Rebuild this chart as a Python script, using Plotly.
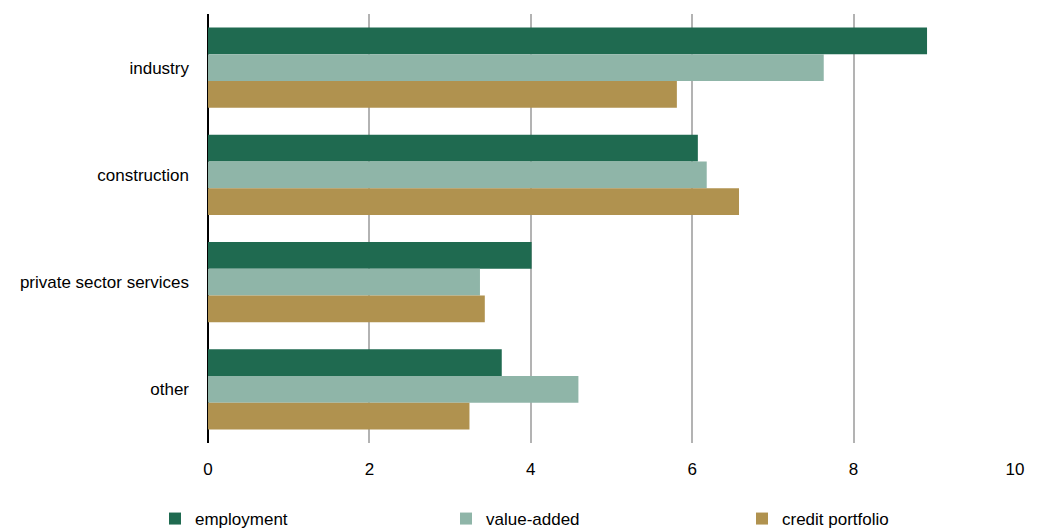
import plotly.graph_objects as go

sectors = ["industry", "construction", "private sector services", "other"]
employment = [8.91, 6.07, 4.01, 3.64]
value_added = [7.63, 6.18, 3.37, 4.59]
credit_portfolio = [5.81, 6.58, 3.43, 3.24]

series = [
    ("employment", employment, "#1f6a50", "legend", 155),
    ("value-added", value_added, "#8fb5a8", "legend2", 446),
    ("credit portfolio", credit_portfolio, "#b0924f", "legend3", 742),
]

font_family = "Liberation Sans Narrow, Arial Narrow, Liberation Sans, Arial, sans-serif"
W, H = 1043, 531

fig = go.Figure()
legend_layouts = {}
for name, vals, color, leg, left_px in series:
    fig.add_trace(go.Bar(
        name=name, y=sectors, x=vals, orientation="h",
        marker=dict(color=color, line=dict(width=0)),
        legend=leg,
    ))
    # one legend box per series so the entries sit spread along the bottom
    legend_layouts[leg] = dict(
        orientation="h", x=left_px / W, xref="container", xanchor="left",
        y=12 / H, yref="container", yanchor="middle",
        font=dict(size=17), itemwidth=30, bgcolor="rgba(0,0,0,0)",
    )

fig.update_layout(
    width=W, height=H,
    margin=dict(l=208, r=28, t=14, b=88, autoexpand=False),
    barmode="group", bargap=0.25, bargroupgap=0,
    plot_bgcolor="white", paper_bgcolor="white",
    font=dict(family=font_family, size=17, color="#000000"),
    xaxis=dict(
        range=[0, 10], tickvals=[0, 2, 4, 6, 8, 10],
        showgrid=True, gridcolor="#b3b3b3", gridwidth=2,
        zeroline=True, zerolinecolor="#000000", zerolinewidth=1.5,
        ticks="", ticklen=0, tickfont=dict(size=17),
        ticklabelstandoff=14,
    ),
    yaxis=dict(
        autorange="reversed", showgrid=False, zeroline=False,
        ticks="", ticklabelstandoff=18, tickfont=dict(size=17),
    ),
    showlegend=True,
    **legend_layouts,
)

fig.write_html("out.html")
